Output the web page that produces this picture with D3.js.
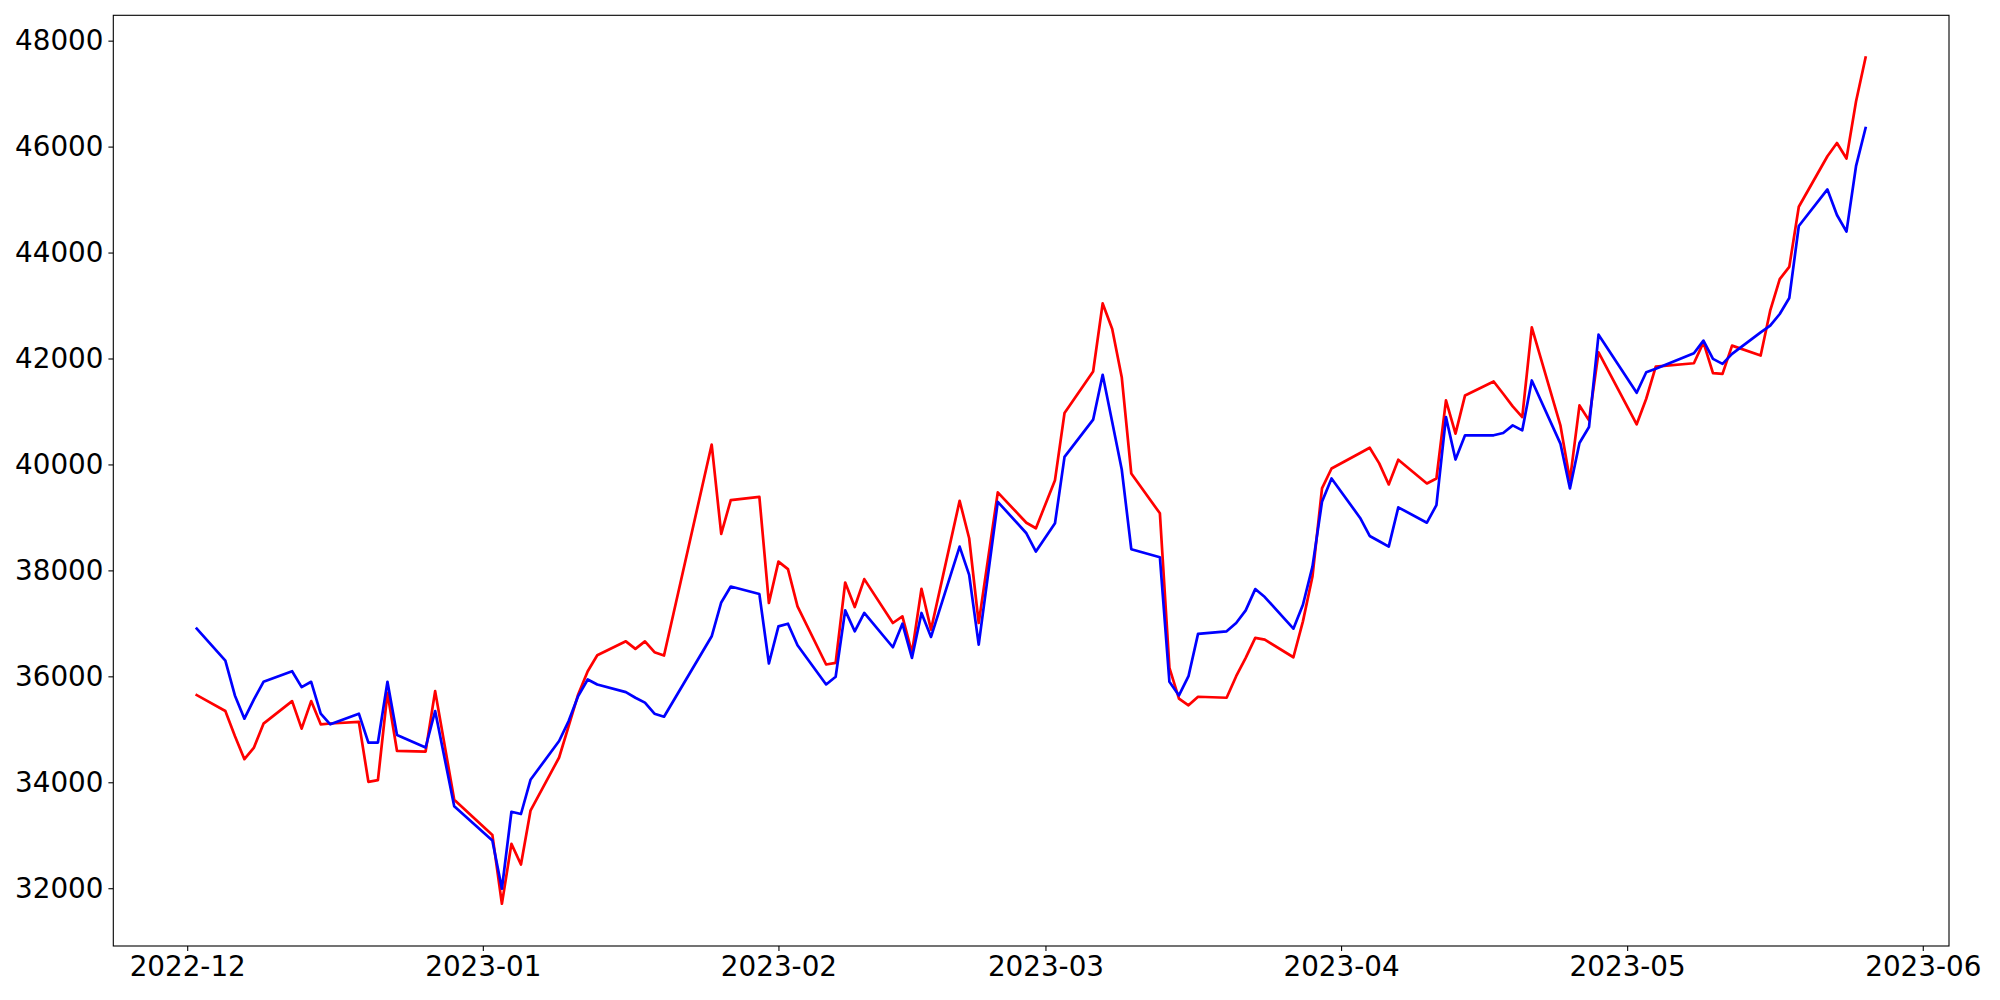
<!DOCTYPE html>
<html>
<head>
<meta charset="utf-8">
<script src="https://cdn.jsdelivr.net/npm/d3@7"></script>
<style>
  body { margin: 0; background: #fff; }
  .axis text { font-family: "DejaVu Sans", sans-serif; font-size: 27.8px; fill: #000; }
  .axis line { stroke: #000; stroke-width: 1.1; }
  .axis .domain { display: none; }
</style>
</head>
<body>
<svg width="2000" height="1000"></svg>
<script>
// trading days and the two series
var dates = [
  "2022-12-02","2022-12-05","2022-12-06","2022-12-07","2022-12-08","2022-12-09",
  "2022-12-12","2022-12-13","2022-12-14","2022-12-15","2022-12-16",
  "2022-12-19","2022-12-20","2022-12-21","2022-12-22","2022-12-23",
  "2022-12-26","2022-12-27","2022-12-29",
  "2023-01-02","2023-01-03","2023-01-04","2023-01-05","2023-01-06",
  "2023-01-09","2023-01-10","2023-01-11","2023-01-12","2023-01-13",
  "2023-01-16","2023-01-17","2023-01-18","2023-01-19","2023-01-20",
  "2023-01-25","2023-01-26","2023-01-27","2023-01-30","2023-01-31",
  "2023-02-01","2023-02-02","2023-02-03",
  "2023-02-06","2023-02-07","2023-02-08","2023-02-09","2023-02-10",
  "2023-02-13","2023-02-14","2023-02-15","2023-02-16","2023-02-17",
  "2023-02-20","2023-02-21","2023-02-22","2023-02-24",
  "2023-02-27","2023-02-28","2023-03-02","2023-03-03",
  "2023-03-06","2023-03-07","2023-03-08","2023-03-09","2023-03-10",
  "2023-03-13","2023-03-14","2023-03-15","2023-03-16","2023-03-17",
  "2023-03-20","2023-03-21","2023-03-22","2023-03-23","2023-03-24",
  "2023-03-27","2023-03-28","2023-03-29","2023-03-30","2023-03-31",
  "2023-04-03","2023-04-04","2023-04-05","2023-04-06","2023-04-07",
  "2023-04-10","2023-04-11","2023-04-12","2023-04-13","2023-04-14",
  "2023-04-17","2023-04-18","2023-04-19","2023-04-20","2023-04-21",
  "2023-04-24","2023-04-25","2023-04-26","2023-04-27","2023-04-28",
  "2023-05-02","2023-05-03","2023-05-04",
  "2023-05-08","2023-05-09","2023-05-10","2023-05-11","2023-05-12",
  "2023-05-15","2023-05-16","2023-05-17","2023-05-18","2023-05-19",
  "2023-05-22","2023-05-23","2023-05-24","2023-05-25","2023-05-26"
];

var redValues = [
  35646,35345,34874,34436,34656,35107,
  35533,35013,35533,35094,35110,
  35140,34009,34040,35690,34592,
  34580,35721,33670,
  33006,31708,32837,32447,33463,
  34468,35062,35659,36097,36398,
  36661,36518,36661,36455,36393,
  40375,38688,39327,39389,37384,
  38166,38023,37320,
  36223,36255,37771,37308,37835,
  37007,37132,36443,37653,36882,
  39314,38607,37007,39472,
  38900,38795,39703,40970,
  41754,43039,42557,41647,39829,
  39077,36161,35578,35452,35615,
  35596,36003,36349,36725,36693,
  36360,37038,37884,39547,39923,
  40217,40315,40020,39622,40090,
  39641,39735,41209,40582,41303,
  41566,41334,41096,40894,42588,
  40738,39703,41114,40832,42117,
  40757,41240,41848,
  41910,42305,41722,41710,42243,
  42055,42902,43498,43729,44864,
  45818,46068,45774,46852,47680
];

var blueValues = [
  36900,36298,35640,35201,35565,35897,
  36097,35796,35897,35295,35094,
  35295,34750,34750,35897,34893,
  34656,35345,33546,
  32899,31990,33444,33401,34047,
  34780,35156,35627,35941,35847,
  35702,35596,35503,35295,35238,
  36756,37395,37696,37553,36242,
  36944,36994,36586,
  35847,35992,37245,36850,37196,
  36549,36994,36349,37196,36744,
  38449,37916,36599,39295,
  38701,38355,38889,40142,
  40845,41692,40800,39905,38400,
  38249,35897,35640,36003,36801,
  36850,37007,37245,37647,37497,
  36900,37352,38072,39295,39735,
  38990,38650,38550,38449,39190,
  38900,39233,40894,40093,40550,
  40550,40594,40738,40644,41585,
  40394,39547,40405,40706,42450,
  41353,41741,41805,
  42098,42337,41993,41899,42087,
  42493,42619,42840,43141,44501,
  45191,44708,44394,45630,46350
];

var xTickLabels = ["2022-12","2023-01","2023-02","2023-03","2023-04","2023-05","2023-06"];
var yTickValues = [32000,34000,36000,38000,40000,42000,44000,46000,48000];

var svg = d3.select("svg"),
    margin = {top: 15.3, right: 51, bottom: 54, left: 113.3},
    width = +svg.attr("width") - margin.left - margin.right,
    height = +svg.attr("height") - margin.top - margin.bottom;

var parseDay = d3.timeParse("%Y-%m-%d"),
    parseMonth = d3.timeParse("%Y-%m");

var days = dates.map(parseDay);

// matplotlib style 5% margins on both axes
var xExt = d3.extent(days),
    xPad = (xExt[1] - xExt[0]) * 0.05;
var allVals = redValues.concat(blueValues),
    yMin = d3.min(allVals), yMax = d3.max(allVals),
    yPad = (yMax - yMin) * 0.05;

var x = d3.scaleTime()
  .domain([new Date(+xExt[0] - xPad), new Date(+xExt[1] + xPad)])
  .range([0, width]);

var y = d3.scaleLinear()
  .domain([yMin - yPad, yMax + yPad])
  .range([height, 0]);

var g = svg.append("g")
  .attr("transform", "translate(" + margin.left + "," + margin.top + ")");

g.append("g")
    .attr("class", "axis axis--x")
    .attr("transform", "translate(0," + height + ")")
    .call(d3.axisBottom(x)
      .tickValues(xTickLabels.map(parseMonth))
      .tickFormat(d3.timeFormat("%Y-%m"))
      .tickSizeOuter(0)
      .tickSize(4.9)
      .tickPadding(4.9));

g.append("g")
    .attr("class", "axis axis--y")
    .call(d3.axisLeft(y)
      .tickValues(yTickValues)
      .tickFormat(d3.format("d"))
      .tickSizeOuter(0)
      .tickSize(4.9)
      .tickPadding(4.9));

var series = [
  {name: "red", color: "#ff0000", values: redValues},
  {name: "blue", color: "#0000ff", values: blueValues}
];

var line = d3.line()
  .x(function(d) { return x(d.date); })
  .y(function(d) { return y(d.v); });

g.selectAll(".series")
  .data(series)
  .enter().append("path")
    .attr("class", "series")
    .attr("fill", "none")
    .attr("stroke", function(d) { return d.color; })
    .attr("stroke-width", 2.7)
    .attr("stroke-linejoin", "round")
    .attr("stroke-linecap", "square")
    .attr("d", function(s) {
      return line(s.values.map(function(v, i) { return {date: days[i], v: v}; }));
    });

// axes frame
g.append("rect")
  .attr("width", width)
  .attr("height", height)
  .attr("fill", "none")
  .attr("stroke", "#000")
  .attr("stroke-width", 1.1);
</script>
</body>
</html>
